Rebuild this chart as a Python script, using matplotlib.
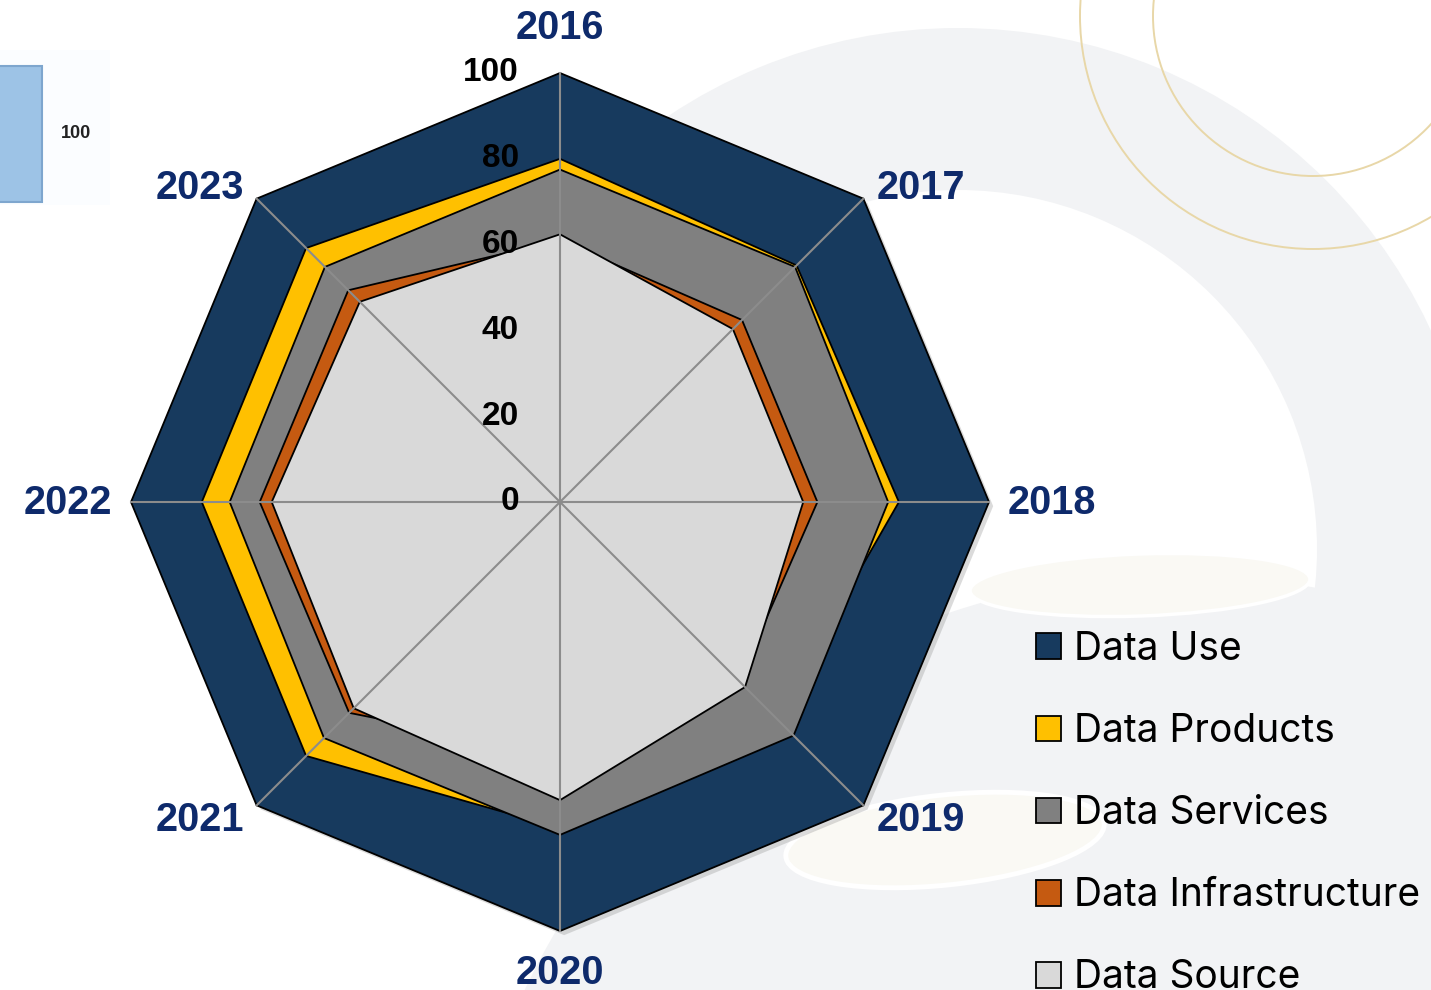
import numpy as np
import matplotlib.pyplot as plt
from matplotlib.patches import Wedge, Circle, Rectangle, Ellipse, Patch
import matplotlib.patheffects as pe

W, H = 1431, 990

years = ["2016", "2017", "2018", "2019", "2020", "2021", "2022", "2023"]
series = ["Data Use", "Data Products", "Data Services", "Data Infrastructure", "Data Source"]
data_use = [100, 100, 100, 100, 100, 100, 100, 100]
data_products = [80, 78, 79, 71, 76, 83.7, 83.5, 83.7]
data_services = [77.5, 77.5, 76.5, 77, 77.6, 77.8, 77, 77.5]
data_infrastructure = [61, 60, 60, 59, 59, 69.5, 70, 69.8]
data_source = [62.4, 57, 56.7, 61, 69.5, 68, 67.2, 66]
r_ticks = [0, 20, 40, 60, 80, 100]

colors = ["#173A5E", "#FFC000", "#808080", "#C55A11", "#D9D9D9"]
navy = "#0E2A6B"

fig = plt.figure(figsize=(W / 100, H / 100), dpi=100)

# decorative slide background (pixel coordinates)
bg = fig.add_axes([0, 0, 1, 1], zorder=0)
bg.set_xlim(0, W)
bg.set_ylim(H, 0)
bg.axis("off")
bg.add_patch(Wedge((958, 549), 521, 0, 360, width=162, fc="#F2F3F5", ec="none"))
bg.add_patch(Circle((1180, 1300), 725, fc="#F2F3F5", ec="none"))
bg.add_patch(Ellipse((1140, 585), 340, 62, angle=-2, fc="#FAF9F4", ec="white", lw=2.5))
bg.add_patch(Ellipse((945, 840), 320, 90, angle=-6, fc="#FAF9F4", ec="white", lw=3.5))
for rad in (160, 233):
    bg.add_patch(Circle((1313, 16), rad, fc="none", ec="#E8D7A8", lw=1.4))
bg.add_patch(Rectangle((0, 50), 110, 155, fc="#FBFDFF", ec="none"))
bg.add_patch(Rectangle((-2, 66), 44, 136, fc="#9DC3E6", ec="#7EA6CE", lw=1.5))
bg.text(76, 134, "100", ha="center", va="center", fontsize=13,
        fontweight="bold", family="Liberation Sans", color="#222222")

# radar axes: centre (560, 502) px, radius 429 px
cx, cy, R = 560, 502, 429
ax = fig.add_axes([(cx - R) / W, (H - cy - R) / H, 2 * R / W, 2 * R / H],
                  projection="polar", zorder=1)
ax.set_theta_zero_location("N")
ax.set_theta_direction(-1)
ax.set_ylim(0, 100)
ax.grid(False)
ax.set_xticks([])
ax.set_yticks([])
ax.spines["polar"].set_visible(False)
ax.patch.set_visible(False)

angles = np.arange(len(years)) * 2 * np.pi / len(years)
theta = np.append(angles, angles[0])

for i, (vals, col) in enumerate(zip([data_use, data_products, data_services,
                                     data_infrastructure, data_source], colors)):
    v = np.append(vals, vals[0])
    poly = ax.fill(theta, v, facecolor=col, edgecolor="black", lw=1.3, clip_on=False)
    if i == 0:
        poly[0].set_path_effects([pe.SimplePatchShadow(offset=(3, -3), shadow_rgbFace="#999999", alpha=0.35),
                                  pe.Normal()])

for a in angles:
    ax.plot([a, a], [0, 100], color="#8C8C8C", lw=1.5, zorder=5, clip_on=False)

for r in r_ticks:
    ax.annotate(str(r), xy=(0, r), xytext=(-41, 0), textcoords="offset pixels",
                ha="right", va="center", fontsize=24, fontweight="bold",
                family="Liberation Sans", color="black", zorder=6,
                annotation_clip=False)

for a, lab in zip(angles, years):
    s, c = np.sin(a), np.cos(a)
    if abs(s) < 0.1:
        dx, dy, ha = 0, (34 if c > 0 else -53), "center"
    elif abs(c) < 0.1:
        dx, dy, ha = 19 * np.sign(s), -12, ("left" if s > 0 else "right")
    else:
        dx, dy, ha = 13 * np.sign(s), (0 if c > 0 else -26), ("left" if s > 0 else "right")
    ax.annotate(lab, xy=(a, 100), xytext=(dx, dy), textcoords="offset pixels",
                ha=ha, va="baseline", fontsize=28.5, fontweight="bold",
                family="Liberation Sans", color=navy, annotation_clip=False)

handles = [Patch(facecolor=col, edgecolor="black", lw=1.3) for col in colors]
fig.legend(handles, series, loc="upper left", bbox_to_anchor=(1036 / W, 1 - 631 / H),
           frameon=False, prop={"family": "Inter", "size": 28},
           handlelength=0.64, handleheight=0.64, handletextpad=0.33,
           labelspacing=1.16, borderpad=0, borderaxespad=0)

fig.savefig("out.png", dpi=100)
